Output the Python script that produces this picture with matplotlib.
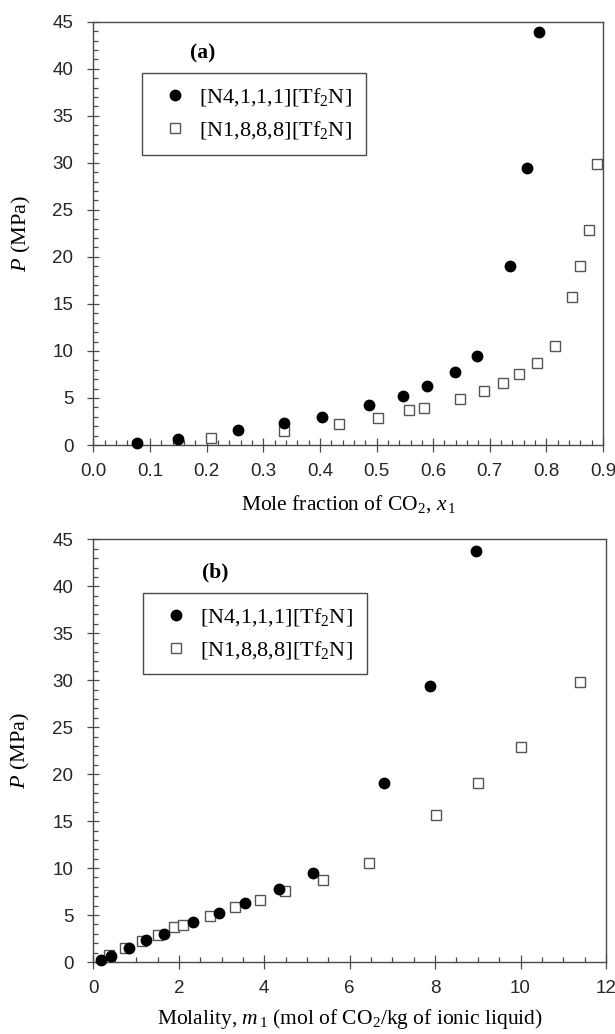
import matplotlib
matplotlib.use("Agg")
import matplotlib.pyplot as plt
from matplotlib.ticker import MultipleLocator, FormatStrFormatter

# Data
# (a) pressure vs mole fraction of CO2
x_n4111 = [0.077, 0.150, 0.256, 0.337, 0.404, 0.486, 0.547, 0.589, 0.639, 0.677, 0.736, 0.765, 0.787]
p_n4111 = [0.25, 0.6, 1.56, 2.37, 3.0, 4.25, 5.2, 6.3, 7.76, 9.46, 19.06, 29.4, 43.9]
x_n1888 = [0.207, 0.337, 0.434, 0.502, 0.558, 0.584, 0.647, 0.690, 0.724, 0.751, 0.784, 0.815,
           0.845, 0.860, 0.875, 0.890]
p_n1888 = [0.74, 1.49, 2.23, 2.9, 3.69, 3.9, 4.89, 5.78, 6.63, 7.51, 8.75, 10.49,
           15.7, 19.06, 22.86, 29.87]

# (b) pressure vs molality
m_n4111 = [0.18, 0.42, 0.84, 1.24, 1.66, 2.32, 2.95, 3.55, 4.35, 5.14, 6.81, 7.88, 8.95]
pm_n4111 = [0.25, 0.61, 1.52, 2.35, 3.0, 4.23, 5.24, 6.29, 7.77, 9.5, 19.08, 29.4, 43.8]
m_n1888 = [0.37, 0.74, 1.13, 1.50, 1.89, 2.09, 2.73, 3.32, 3.90, 4.48, 5.37, 6.46,
           8.02, 9.0, 10.02, 11.40]
pm_n1888 = [0.76, 1.45, 2.24, 2.89, 3.76, 3.98, 4.92, 5.82, 6.65, 7.52, 8.78, 10.52,
            15.7, 19.08, 22.84, 29.85]

labels = [r"[N4,1,1,1][Tf$_2$N]", r"[N1,8,8,8][Tf$_2$N]"]

plt.rcParams["mathtext.fontset"] = "custom"
plt.rcParams["mathtext.rm"] = "Liberation Serif"
plt.rcParams["mathtext.it"] = "Liberation Serif:italic"
plt.rcParams["mathtext.bf"] = "Liberation Serif:bold"

frame_col = "#4a4a4a"
serif = "Liberation Serif"
sans = "Liberation Sans"


def style_axes(ax, xmax, xmaj, xmin_step, xfmt):
    ax.set_xlim(0, xmax)
    ax.set_ylim(0, 45)
    ax.xaxis.set_major_locator(MultipleLocator(xmaj))
    ax.xaxis.set_minor_locator(MultipleLocator(xmin_step))
    ax.xaxis.set_major_formatter(FormatStrFormatter(xfmt))
    ax.yaxis.set_major_locator(MultipleLocator(5))
    ax.yaxis.set_minor_locator(MultipleLocator(1))
    ax.tick_params(axis="x", which="major", direction="inout", length=10, width=0.9,
                   color=frame_col, labelsize=13.5, pad=8)
    ax.tick_params(axis="y", which="major", direction="inout", length=9, width=0.9,
                   color=frame_col, labelsize=13.5, pad=10)
    ax.tick_params(which="minor", direction="in", length=3.5, width=0.9, color=frame_col)
    for lab in ax.get_xticklabels() + ax.get_yticklabels():
        lab.set_fontfamily(sans)
        lab.set_color("#262626")
    for sp in ax.spines.values():
        sp.set_color(frame_col)
        sp.set_linewidth(1.0)
    ax.set_ylabel(r"$P$ (MPa)", fontfamily=serif, fontsize=16)
    ax.yaxis.set_label_coords(-0.119, 0.5)


def draw_points(ax, xa, ya, xb, yb):
    ax.plot(xa, ya, linestyle="none", marker="o", markersize=7.5, color="black",
            label=labels[0], clip_on=False, zorder=3)
    ax.plot(xb, yb, linestyle="none", marker="s", markersize=7.2, markerfacecolor="white",
            markeredgecolor="#555555", markeredgewidth=1.0, label=labels[1],
            clip_on=False, zorder=2)


def add_legend(ax, anchor):
    leg = ax.legend(loc="upper left", bbox_to_anchor=anchor, borderaxespad=0,
                    prop={"family": serif, "size": 16}, fancybox=False,
                    edgecolor=frame_col, framealpha=1, markerscale=1.0,
                    handletextpad=0.2, borderpad=0.6, labelspacing=0.5,
                    handlelength=1.8)
    leg.get_frame().set_linewidth(1.0)


fig = plt.figure(figsize=(6.15, 10.34), dpi=100)

# panel (a)
ax1 = fig.add_axes([0.152, 0.5696, 0.8285, 0.4094])
draw_points(ax1, x_n4111, p_n4111, x_n1888, p_n1888)
style_axes(ax1, 0.9, 0.1, 0.02, "%.1f")
ax1.set_xlabel(r"Mole fraction of CO$_2$, $x$$_{\,1}$", fontfamily=serif, fontsize=15.5)
ax1.xaxis.set_label_coords(0.5, -0.113)
ax1.text(0.193, 41.6, "(a)", fontfamily=serif, fontweight="bold", fontsize=15.5,
         ha="center", va="center")
add_legend(ax1, (0.0946, 0.8795))

# panel (b)
ax2 = fig.add_axes([0.152, 0.0696, 0.8333, 0.4088])
draw_points(ax2, m_n4111, pm_n4111, m_n1888, pm_n1888)
style_axes(ax2, 12, 2, 0.5, "%d")
ax2.set_xlabel(r"Molality, $m$$_{\,1}$ (mol of CO$_2$/kg of ionic liquid)",
               fontfamily=serif, fontsize=15.5)
ax2.xaxis.set_label_coords(0.5, -0.106)
ax2.text(2.86, 41.5, "(b)", fontfamily=serif, fontweight="bold", fontsize=15.5,
         ha="center", va="center")
add_legend(ax2, (0.096, 0.8737))

fig.savefig("out.png", dpi=100)
